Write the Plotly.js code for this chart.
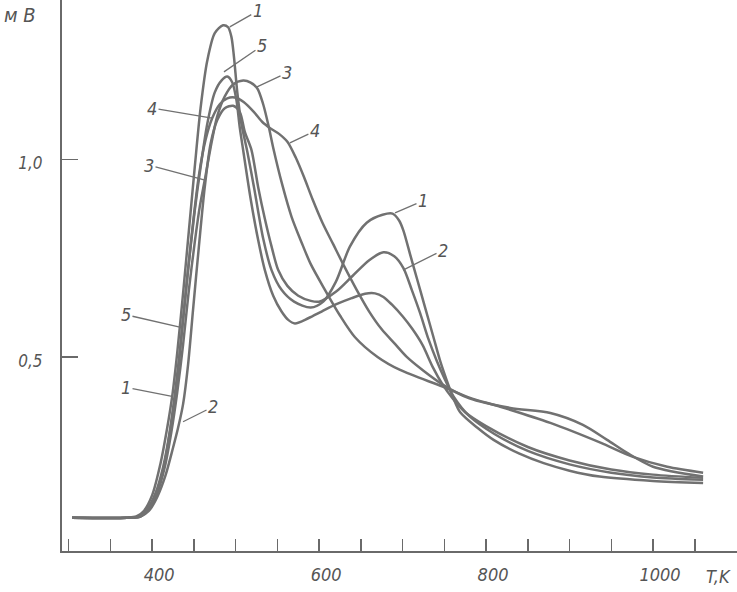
<!DOCTYPE html>
<html>
<head>
<meta charset="utf-8">
<script src="https://cdn.plot.ly/plotly-3.0.1.min.js"></script>
<style>
html,body{margin:0;padding:0;background:#ffffff;}
#chart{width:737px;height:592px;}
</style>
</head>
<body>
<div id="chart"></div>
<script>
// ---- data (T in K, signal in mV) ----
var curve1T = [304,370,381,390,400,410,418,424,430,437,444,451,458,466,475,485,491,495,498,502,507,514,522,533,543,555,570,590,605,620,637,657,676,688,696,701,709,717,727,737,745,753,761,769,790,809,840,869,900,936,1000,1060];
var curve1V = [0.093,0.093,0.096,0.11,0.15,0.23,0.32,0.40,0.51,0.66,0.82,0.98,1.13,1.25,1.32,1.34,1.335,1.31,1.26,1.17,1.09,1.02,0.93,0.80,0.72,0.67,0.64,0.625,0.64,0.69,0.78,0.84,0.86,0.863,0.845,0.82,0.76,0.70,0.625,0.55,0.49,0.44,0.395,0.36,0.32,0.29,0.255,0.231,0.212,0.197,0.186,0.181];

var curve2T = [304,370,386,396,406,416,425,431,437,443,449,456,463,470,478,487,497,505,511,519,527,535,543,551,562,575,590,600,620,640,660,677,690,701,711,721,731,741,751,761,780,810,850,900,950,1000,1060];
var curve2V = [0.093,0.093,0.096,0.11,0.145,0.20,0.27,0.32,0.38,0.48,0.62,0.78,0.93,1.04,1.10,1.13,1.136,1.12,1.07,1.024,0.93,0.85,0.78,0.72,0.68,0.655,0.642,0.64,0.665,0.705,0.745,0.765,0.755,0.725,0.67,0.611,0.545,0.49,0.442,0.40,0.35,0.305,0.262,0.228,0.207,0.195,0.189];

var curve3T = [304,370,386,396,406,415,423,430,437,444,451,457,463,470,478,487,497,509,518,526,533,540,545,556,567,579,590,607,625,643,670,697,748,780,817,877,937,976,1017,1060];
var curve3V = [0.093,0.093,0.096,0.115,0.155,0.22,0.31,0.41,0.53,0.67,0.79,0.88,0.948,1.03,1.11,1.16,1.19,1.20,1.195,1.18,1.14,1.08,1.03,0.935,0.855,0.79,0.735,0.67,0.605,0.55,0.50,0.467,0.425,0.397,0.374,0.333,0.283,0.247,0.222,0.207];

var curve4T = [304,370,384,394,404,413,421,428,435,442,449,456,464,472,481,490,499,510,522,532,541,552,562,572,582,592,604,617,630,645,660,675,690,705,725,748,780,829,877,916,945,969,1000,1060];
var curve4V = [0.093,0.093,0.096,0.115,0.155,0.22,0.31,0.42,0.55,0.70,0.84,0.96,1.05,1.105,1.14,1.155,1.157,1.145,1.12,1.095,1.08,1.065,1.045,1.005,0.955,0.90,0.84,0.785,0.73,0.67,0.615,0.57,0.535,0.50,0.465,0.43,0.395,0.371,0.358,0.328,0.29,0.257,0.222,0.197];

var curve5T = [304,370,385,395,405,414,422,429,436,443,451,458,466,475,483,490,496,501,505,509,518,527,535,545,555,563,571,587,603,620,639,655,667,677,687,700,712,724,736,748,760,775,800,850,900,950,1000,1060];
var curve5V = [0.093,0.093,0.096,0.115,0.155,0.22,0.32,0.42,0.574,0.72,0.87,0.98,1.09,1.17,1.20,1.21,1.195,1.15,1.08,1.024,0.90,0.796,0.72,0.655,0.615,0.594,0.585,0.598,0.615,0.633,0.649,0.66,0.661,0.652,0.633,0.603,0.57,0.53,0.475,0.43,0.395,0.36,0.325,0.272,0.238,0.215,0.202,0.194];

var xTickVals = [400,600,800,1000];
var xTickText = ['400','600','800','1000'];
var yTickVals = [0.5,1.0];
var yTickText = ['0,5','1,0'];

// curve number labels: text, point on curve (T, V), text offset in px
var labText = ['1','5','3','4','4','3','1','2','5','1','2'];
var labT    = [493,486,525.6,471.7,565,463.3,690.9,700.5,435.7,423.8,437];
var labV    = [1.336,1.222,1.184,1.105,1.042,0.948,0.865,0.72,0.574,0.40,0.336];
var labDx   = [28,38,30,-60,25,-56,28,40,-56,-46,30];
var labDy   = [-16,-26,-14,-10,-12,-15,-12,-20,-13,-9,-15];

var lineCol = '#717171';
var textCol = '#555555';
var fontFam = '"DejaVu Sans Condensed", "Liberation Sans Narrow", "DejaVu Sans", sans-serif';

function mk(T, V){
  return {x:T, y:V, type:'scatter', mode:'lines',
          line:{color:lineCol, width:2.5, shape:'spline', smoothing:0.8},
          hoverinfo:'skip', showlegend:false};
}
var traces = [mk(curve1T,curve1V), mk(curve2T,curve2V), mk(curve3T,curve3V), mk(curve4T,curve4V), mk(curve5T,curve5V)];

var ann = [];
for (var i=0;i<labText.length;i++){
  ann.push({x:labT[i], y:labV[i], xref:'x', yref:'y', text:labText[i],
            showarrow:true, arrowhead:0, arrowwidth:1.3, arrowcolor:lineCol,
            ax:labDx[i], ay:labDy[i], standoff:0,
            font:{family:fontFam, size:18, color:textCol, style:'italic'}});
}
ann.push({xref:'paper', yref:'paper', x:-0.062, y:0.973, xanchor:'center', yanchor:'middle',
          text:'м В', showarrow:false, font:{family:fontFam, size:20, color:textCol, style:'italic'}});
ann.push({xref:'paper', yref:'paper', x:0.972, y:-0.047, xanchor:'center', yanchor:'middle',
          text:'T,K', showarrow:false, font:{family:fontFam, size:18, color:textCol, style:'italic'}});

var layout = {
  width:737, height:592,
  margin:{l:62, r:0, t:0, b:41, pad:0},
  paper_bgcolor:'#ffffff', plot_bgcolor:'#ffffff',
  showlegend:false,
  xaxis:{range:[292,1100.6], showgrid:false, zeroline:false,
         showline:true, linecolor:'#6a6a6a', linewidth:2,
         ticks:'inside', ticklen:12, tickwidth:1.5, tickcolor:'#6a6a6a',
         tickvals:xTickVals, ticktext:xTickText,
         ticklabelshift:7, ticklabelstandoff:6,
         minor:{tick0:300, dtick:50, ticks:'inside', ticklen:12, tickwidth:1.5, tickcolor:'#6a6a6a', showgrid:false},
         tickfont:{family:fontFam, size:18, color:textCol, style:'italic'}},
  yaxis:{range:[0.0086,1.404], showgrid:false, zeroline:false,
         showline:true, linecolor:'#6a6a6a', linewidth:2,
         ticks:'inside', ticklen:16, tickwidth:1.5, tickcolor:'#6a6a6a',
         tickvals:yTickVals, ticktext:yTickText,
         ticklabelshift:4, ticklabelstandoff:14,
         tickfont:{family:fontFam, size:17, color:textCol, style:'italic'}},
  annotations:ann
};
Plotly.newPlot('chart', traces, layout, {staticPlot:true, displayModeBar:false});
</script>
</body>
</html>
